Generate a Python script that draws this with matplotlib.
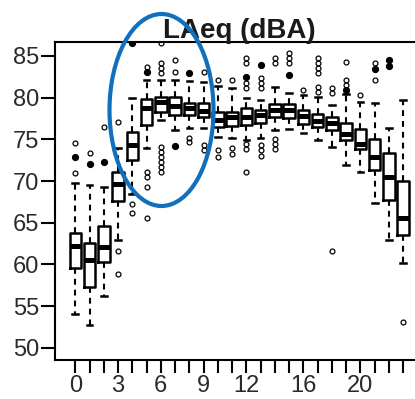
import matplotlib
matplotlib.use('Agg')
import matplotlib.pyplot as plt
from matplotlib.patches import Ellipse

# ---------------- data ----------------
hours = list(range(24))
whis_hi = [69.76, 69.52, 69.28, 73.95, 79.94, 82.10, 82.10, 82.10, 81.98, 81.86,
           81.38, 81.14, 79.94, 79.70, 81.26, 80.54, 80.30, 80.06, 79.10, 80.42,
           79.46, 79.34, 76.35, 79.70]
q3 = [63.77, 62.57, 64.61, 71.08, 75.87, 79.82, 80.06, 80.06, 79.34, 79.34,
      78.26, 78.26, 78.74, 78.50, 79.22, 79.22, 78.50, 78.02, 77.66, 76.95,
      76.23, 75.03, 73.35, 70.00]
med = [62.22, 60.54, 62.10, 69.70, 74.31, 78.74, 79.46, 78.98, 78.74, 78.38,
       77.31, 77.66, 77.66, 77.90, 78.50, 78.50, 77.78, 77.19, 76.95, 75.63,
       74.43, 72.87, 70.48, 65.57]
q1 = [59.58, 57.31, 60.30, 67.60, 72.51, 76.71, 78.26, 77.90, 77.90, 77.66,
      76.47, 76.59, 76.71, 76.95, 77.66, 77.54, 76.83, 76.47, 76.11, 74.91,
      73.83, 71.32, 67.72, 63.53]
whis_lo = [54.07, 52.75, 56.23, 62.93, 68.44, 73.95, 77.31, 76.11, 76.35, 76.35,
           75.27, 75.15, 74.91, 75.15, 76.11, 76.23, 75.75, 74.91, 74.07, 71.92,
           71.08, 67.37, 62.93, 60.18]
outliers = [
    [74.55, 70.96],
    [73.35],
    [76.47],
    [77.07, 61.62, 58.86],
    [67.25, 66.17],
    [83.65, 71.08, 70.48, 69.28, 65.57],
    [86.53, 84.13, 83.53, 82.93, 74.07, 73.47, 72.87, 72.28, 71.68, 71.08],
    [84.49, 83.05],
    [75.15, 74.67],
    [83.05, 74.31, 73.71],
    [82.10, 73.71, 72.87],
    [82.10, 73.95, 73.23],
    [84.73, 84.13, 81.74, 81.14, 74.43, 73.83, 71.08],
    [82.34, 81.74, 81.14, 74.31, 73.71, 72.99],
    [84.73, 84.13, 75.03, 74.43, 73.83],
    [85.33, 84.73, 84.13],
    [80.90],
    [84.73, 84.13, 83.53, 82.93, 81.26, 80.66],
    [81.14, 80.54, 61.62],
    [84.25, 82.10, 81.50],
    [80.30],
    [84.13, 82.10],
    [],
    [53.11],
]
outliers_dense = [
    [72.87], [72.04], [72.28], [], [86.53], [83.05], [], [74.19], [82.93], [],
    [], [], [82.46], [83.89], [], [82.69], [], [], [], [80.90],
    [], [83.41], [84.49, 83.77], [],
]
x_tick_labels = ['0', '', '', '3', '', '', '6', '', '', '9', '', '', '12', '', '', '',
                 '16', '', '', '', '20', '', '', '']
y_ticks = [50, 55, 60, 65, 70, 75, 80, 85]
title = 'LAeq (dBA)'

# ---------------- figure ----------------
plt.rcParams['font.family'] = ['Liberation Sans', 'DejaVu Sans']
W, H = 415, 399
fig = plt.figure(figsize=(W / 100, H / 100), dpi=100)
fig.patch.set_facecolor('white')

left_px, right_px, top_px, bot_px = 54.5, 424.0, 42.0, 360.0
ax = fig.add_axes([left_px / W, 1 - bot_px / H, (right_px - left_px) / W, (bot_px - top_px) / H])

stats = []
for i in range(len(hours)):
    stats.append(dict(med=med[i], q1=q1[i], q3=q3[i], whislo=whis_lo[i],
                      whishi=whis_hi[i], fliers=outliers[i]))

ax.bxp(stats, positions=hours, widths=0.8, capwidths=0.4, showfliers=True,
       boxprops=dict(color='black', linewidth=1.8),
       whiskerprops=dict(color='black', linewidth=1.5, linestyle=(0, (2.8, 2.4))),
       capprops=dict(color='black', linewidth=1.8),
       medianprops=dict(color='black', linewidth=3.6, solid_capstyle='butt'),
       flierprops=dict(marker='o', markersize=3.5, markerfacecolor='none',
                       markeredgecolor='black', markeredgewidth=0.9))

dx, dy = [], []
for h, vals in zip(hours, outliers_dense):
    for v in vals:
        dx.append(h)
        dy.append(v)
ax.plot(dx, dy, linestyle='none', marker='o', markersize=4.2,
        markerfacecolor='black', markeredgecolor='black')

ax.set_xlim(-1.46, 24.46)
ax.set_ylim(48.56, 86.65)
ax.set_xticks(hours)
ax.set_xticklabels(x_tick_labels)
ax.set_yticks(y_ticks)
ax.set_yticklabels([str(v) for v in y_ticks])

lab_col = '#2a2a2a'
ax.tick_params(axis='x', direction='out', length=9, width=1.5, labelsize=17,
               pad=2, labelcolor=lab_col)
ax.tick_params(axis='y', direction='out', length=10, width=1.5, labelsize=17,
               pad=1, labelcolor=lab_col)
for s in ax.spines.values():
    s.set_linewidth(1.5)

fig.text(239 / W, 1 - 38 / H, title, ha='center', va='baseline',
         fontsize=20, fontweight='bold', color='#1a1a1a', zorder=10)

fig.add_artist(Ellipse((161.5 / W, 1 - 110 / H), 104 / W, 192 / H,
                       transform=fig.transFigure, fill=False,
                       edgecolor='#1170bd', linewidth=3.0, zorder=20))

fig.savefig('out.png', dpi=100, facecolor='white')
